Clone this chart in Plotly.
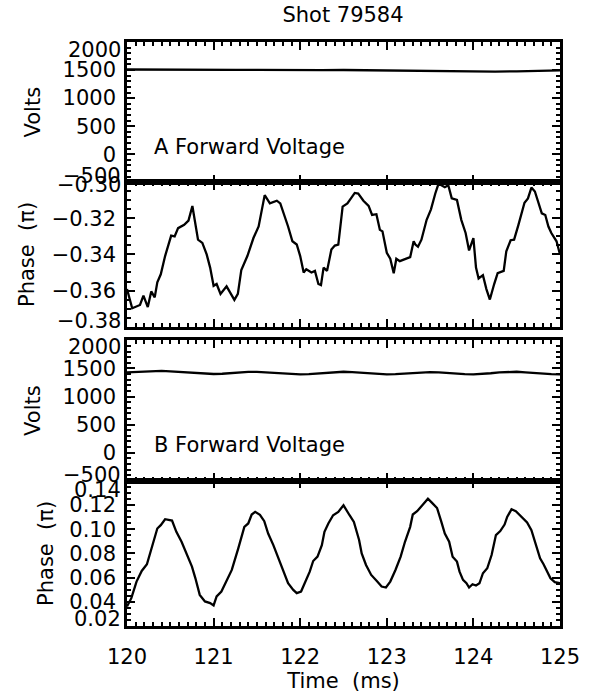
import plotly.graph_objects as go

# ---------------- data ----------------
title_text = "Shot 79584"
time_ticks = [120, 121, 122, 123, 124, 125]
volt_ticks = [-500, 0, 500, 1000, 1500, 2000]
phase_a_ticks = [-0.38, -0.36, -0.34, -0.32, -0.30]
phase_b_ticks = [0.02, 0.04, 0.06, 0.08, 0.10, 0.12, 0.14]

volt_a_t = [120.0, 120.25, 120.5, 120.75, 121.0, 121.25, 121.5, 121.75, 122.0, 122.25, 122.5,
            122.75, 123.0, 123.25, 123.5, 123.75, 124.0, 124.25, 124.5, 124.75, 125.0]
volt_a = [1510, 1506, 1510, 1504, 1507, 1502, 1505, 1500, 1503, 1498, 1501, 1496, 1499, 1494,
          1492, 1488, 1480, 1472, 1478, 1490, 1496]

phase_a_t = [120.0, 120.06, 120.15, 120.19, 120.24, 120.28, 120.32, 120.35, 120.39, 120.44,
             120.51, 120.55, 120.59, 120.66, 120.71, 120.755, 120.82, 120.87, 120.92, 120.96,
             121.0, 121.035, 121.08, 121.15, 121.19, 121.24, 121.28, 121.32, 121.39, 121.46,
             121.52, 121.59, 121.65, 121.73, 121.77, 121.83, 121.86, 121.91, 121.96, 122.0,
             122.04, 122.07, 122.13, 122.17, 122.21, 122.24, 122.27, 122.31, 122.36, 122.4,
             122.44, 122.49, 122.545, 122.63, 122.67, 122.73, 122.79, 122.83, 122.88, 122.92,
             122.95, 123.0, 123.04, 123.08, 123.11, 123.15, 123.21, 123.27, 123.31, 123.33,
             123.36, 123.4, 123.46, 123.51, 123.56, 123.595, 123.63, 123.67, 123.71, 123.75,
             123.81, 123.86, 123.91, 123.95, 124.0, 124.03, 124.06, 124.11, 124.15, 124.19,
             124.24, 124.28, 124.35, 124.38, 124.43, 124.47, 124.52, 124.56, 124.59, 124.63,
             124.67, 124.71, 124.79, 124.83, 124.866, 124.9, 124.96, 125.0]
phase_a = [-0.3592, -0.3698, -0.3680, -0.3628, -0.3692, -0.3605, -0.3638, -0.3555, -0.3510, -0.3409,
           -0.3296, -0.3300, -0.3254, -0.3236, -0.3212, -0.3131, -0.3318, -0.3336, -0.3400, -0.3473,
           -0.3574, -0.3564, -0.3619, -0.3577, -0.3610, -0.3652, -0.3619, -0.3486, -0.3409, -0.3309,
           -0.3245, -0.3071, -0.3117, -0.3102, -0.3117, -0.3199, -0.3245, -0.3327, -0.3345, -0.3409,
           -0.3500, -0.3482, -0.3500, -0.3491, -0.3564, -0.3570, -0.3473, -0.3491, -0.3373, -0.3351,
           -0.3345, -0.3135, -0.3117, -0.3059, -0.3062, -0.3102, -0.3131, -0.3181, -0.3177, -0.3263,
           -0.3272, -0.3391, -0.3424, -0.3504, -0.3424, -0.3437, -0.3428, -0.3415, -0.3327, -0.3345,
           -0.3357, -0.3318, -0.3208, -0.3150, -0.3062, -0.3011, -0.3016, -0.3027, -0.3016, -0.3089,
           -0.3098, -0.3208, -0.3281, -0.3378, -0.3309, -0.3473, -0.3533, -0.3515, -0.3592, -0.3650,
           -0.3564, -0.3504, -0.3491, -0.3382, -0.3321, -0.3318, -0.3236, -0.3172, -0.3113, -0.3089,
           -0.3029, -0.3051, -0.3172, -0.3181, -0.3245, -0.3281, -0.3327, -0.3400]

volt_b_t = [120.0, 120.1, 120.2, 120.3, 120.4, 120.5, 120.6, 120.7, 120.8, 120.9, 121.0,
            121.1, 121.2, 121.3, 121.4, 121.5, 121.6, 121.7, 121.8, 121.9, 122.0,
            122.1, 122.2, 122.3, 122.4, 122.5, 122.6, 122.7, 122.8, 122.9, 123.0,
            123.1, 123.2, 123.3, 123.4, 123.5, 123.6, 123.7, 123.8, 123.9, 124.0,
            124.1, 124.2, 124.3, 124.4, 124.5, 124.6, 124.7, 124.8, 124.9, 125.0]
volt_b = [1430, 1438, 1448, 1455, 1456, 1450, 1440, 1425, 1412, 1405, 1402,
          1406, 1418, 1432, 1440, 1438, 1430, 1418, 1405, 1398, 1396,
          1400, 1410, 1425, 1438, 1442, 1436, 1424, 1410, 1400, 1396,
          1398, 1408, 1420, 1432, 1436, 1430, 1418, 1405, 1398, 1395,
          1402, 1415, 1430, 1440, 1442, 1432, 1418, 1405, 1398, 1396]

phase_b_t = [120.0, 120.05, 120.11, 120.17, 120.23, 120.285, 120.35, 120.39, 120.44, 120.52,
             120.57, 120.63, 120.69, 120.75, 120.79, 120.84, 120.9, 120.96, 121.0, 121.035,
             121.09, 121.15, 121.21, 121.285, 121.355, 121.4, 121.44, 121.48, 121.535, 121.585,
             121.63, 121.69, 121.75, 121.81, 121.86, 121.92, 121.96, 122.01, 122.055, 122.11,
             122.15, 122.2, 122.25, 122.28, 122.325, 122.38, 122.44, 122.5, 122.57, 122.62,
             122.68, 122.71, 122.76, 122.82, 122.89, 122.94, 122.99, 123.04, 123.1, 123.16,
             123.21, 123.27, 123.3, 123.35, 123.41, 123.475, 123.52, 123.58, 123.63, 123.67,
             123.72, 123.76, 123.81, 123.84, 123.88, 123.92, 123.95, 123.99, 124.03, 124.07,
             124.11, 124.16, 124.21, 124.26, 124.31, 124.36, 124.39, 124.44, 124.49, 124.56,
             124.62, 124.67, 124.72, 124.77, 124.81, 124.85, 124.89, 124.94, 125.0]
phase_b = [0.0362, 0.0430, 0.0567, 0.0655, 0.0710, 0.0855, 0.1005, 0.1033, 0.1082, 0.1071,
           0.0978, 0.0896, 0.0786, 0.0690, 0.0594, 0.0457, 0.0403, 0.0389, 0.0370, 0.0444,
           0.0485, 0.0581, 0.0663, 0.0841, 0.1019, 0.1047, 0.1121, 0.1143, 0.1118, 0.1066,
           0.0964, 0.0868, 0.0759, 0.0636, 0.0553, 0.0498, 0.0471, 0.0485, 0.0553, 0.0649,
           0.0737, 0.0773, 0.0868, 0.0978, 0.1047, 0.1115, 0.1143, 0.1197, 0.1115, 0.1060,
           0.0910, 0.0800, 0.0704, 0.0622, 0.0567, 0.0526, 0.0518, 0.0567, 0.0663, 0.0773,
           0.0896, 0.1019, 0.1121, 0.1148, 0.1197, 0.1252, 0.1219, 0.1175, 0.1060, 0.0964,
           0.0896, 0.0773, 0.0732, 0.0649, 0.0581, 0.0553, 0.0518, 0.0545, 0.0534, 0.0553,
           0.0636, 0.0677, 0.0786, 0.0951, 0.0984, 0.1038, 0.1101, 0.1164, 0.1148, 0.1101,
           0.1055, 0.0992, 0.0868, 0.0759, 0.0710, 0.0649, 0.0594, 0.0562, 0.0553]

# ---------------- figure ----------------
FONT = "DejaVu Sans"
FS = 21
fig = go.Figure()
line = dict(color="black", width=2.3)
fig.add_trace(go.Scatter(x=volt_a_t, y=volt_a, mode="lines", line=line, xaxis="x", yaxis="y"))
fig.add_trace(go.Scatter(x=phase_a_t, y=phase_a, mode="lines", line=line, xaxis="x2", yaxis="y2"))
fig.add_trace(go.Scatter(x=volt_b_t, y=volt_b, mode="lines", line=line, xaxis="x3", yaxis="y3"))
fig.add_trace(go.Scatter(x=phase_b_t, y=phase_b, mode="lines", line=line, xaxis="x4", yaxis="y4"))

H = 591.0
doms = [
    [(633 - 184) / H, 1.0],
    [(633 - 330) / H, (633 - 184) / H],
    [(633 - 486) / H, (633 - 344) / H],
    [0.0, (633 - 486) / H],
]

def xax(i, show):
    d = dict(range=[120, 125], domain=[0, 1], anchor="y" if i == 1 else f"y{i}",
             showline=True, linecolor="black", linewidth=2.5, mirror="ticks",
             ticks="inside", ticklen=8, tickwidth=2, tickcolor="black",
             tickvals=time_ticks, ticktext=[str(v) for v in time_ticks],
             showticklabels=show, showgrid=False, zeroline=False,
             minor=dict(dtick=0.1, ticks="inside", ticklen=4, tickwidth=1.5, tickcolor="black",
                        showgrid=False),
             tickfont=dict(family=FONT, size=FS, color="black"), ticklabelstandoff=10)
    if show:
        d["title"] = dict(text="Time  (ms)", font=dict(family=FONT, size=FS, color="black"),
                          standoff=4)
    return d

def fmt_label(v, fmt):
    s = format(v, fmt)
    return s.replace("-", "\u2212")

def yax(i, ticks, mdt, title, fmt, standoff):
    rng = [ticks[0], ticks[-1]]
    # edge labels are drawn as shifted annotations (IDL style), so blank them here
    text = [""] + [fmt_label(v, fmt) for v in ticks[1:-1]] + [""]
    return dict(range=rng, domain=doms[i - 1], anchor="x" if i == 1 else f"x{i}",
                showline=True, linecolor="black", linewidth=2.5, mirror="ticks",
                ticks="inside", ticklen=8, tickwidth=2, tickcolor="black",
                tickvals=ticks, ticktext=text, showgrid=False, zeroline=False,
                minor=dict(dtick=mdt, ticks="inside", ticklen=4, tickwidth=1.5,
                           tickcolor="black", showgrid=False),
                tickfont=dict(family=FONT, size=FS, color="black"), ticklabelstandoff=4,
                title=dict(text=title, font=dict(family=FONT, size=FS, color="black"),
                           standoff=standoff))

def edge_ann(i, ticks, fmt, top_shift, bottom_shift):
    yref = "y" if i == 1 else f"y{i}"
    out = []
    for v, sh in ((ticks[-1], top_shift), (ticks[0], bottom_shift)):
        out.append(dict(text=fmt_label(v, fmt), xref="paper", x=0, xanchor="right",
                        xshift=-4, yref=yref, y=v, yanchor="middle", yshift=sh,
                        showarrow=False, font=dict(family=FONT, size=FS, color="black")))
    return out

annotations = [
    dict(text="A Forward Voltage", x=120.29, y=130, xref="x", yref="y", xanchor="left",
         yanchor="middle", showarrow=False, font=dict(family=FONT, size=FS, color="black")),
    dict(text="B Forward Voltage", x=120.29, y=130, xref="x3", yref="y3", xanchor="left",
         yanchor="middle", showarrow=False, font=dict(family=FONT, size=FS, color="black")),
]
annotations += edge_ann(1, volt_ticks, "d", -8, 6)
annotations += edge_ann(2, phase_a_ticks, ".2f", -3, 6)
annotations += edge_ann(3, volt_ticks, "d", -7, 6)
annotations += edge_ann(4, phase_b_ticks, ".2f", -9, 7)

layout = dict(
    width=592, height=700, margin=dict(l=127, r=32, t=42, b=67),
    paper_bgcolor="white", plot_bgcolor="white", showlegend=False,
    title=dict(text=title_text, x=343 / 592, xanchor="center", y=1 - 15 / 700, yanchor="middle",
               font=dict(family=FONT, size=FS, color="black")),
    xaxis=xax(1, False), xaxis2=xax(2, False), xaxis3=xax(3, False), xaxis4=xax(4, True),
    yaxis=yax(1, volt_ticks, 100, "Volts", "d", 17),
    yaxis2=yax(2, phase_a_ticks, 0.005, "Phase  (π)", ".2f", 12),
    yaxis3=yax(3, volt_ticks, 100, "Volts", "d", 17),
    yaxis4=yax(4, phase_b_ticks, 0.005, "Phase  (π)", ".2f", 10),
    annotations=annotations,
)
fig.update_layout(**layout)
fig.write_html("out.html")
